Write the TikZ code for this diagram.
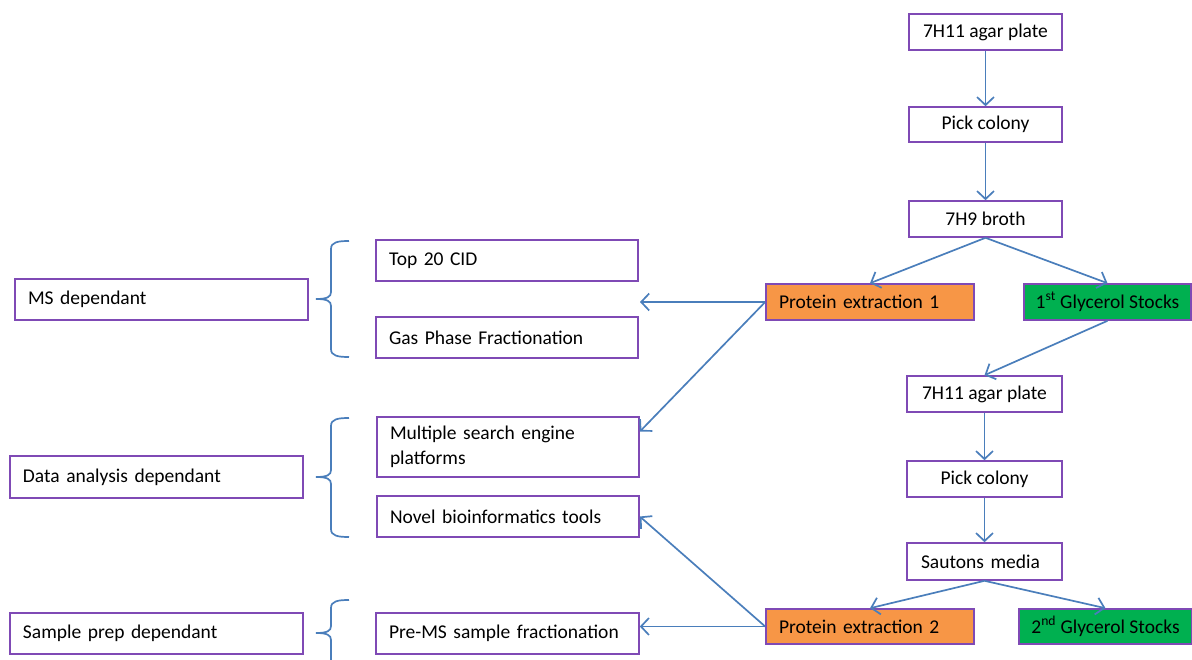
\documentclass[tikz,border=0pt]{standalone}
\usepackage{fontspec}
\setmainfont{Carlito}
\usetikzlibrary{arrows.meta,calc}

\definecolor{boxline}{HTML}{7F4AB5}
\definecolor{linkblue}{HTML}{4A7EBB}
\definecolor{extractfill}{HTML}{F79646}
\definecolor{stockfill}{HTML}{00B050}

\newcommand\boxfont{\fontsize{19.5}{24.5}\selectfont}

% curly brace opening to the right: top y, tip y, bottom y
\newcommand\drawbrace[3]{%
  \draw[bracepath] (349,#1) .. controls (338,#1) and (331,#1+1) .. (331,#1+8)
    -- (331,#2-7) .. controls (331,#2-2) and (327,#2) .. (316,#2)
    .. controls (327,#2) and (331,#2+2) .. (331,#2+7)
    -- (331,#3-8) .. controls (331,#3-1) and (338,#3) .. (349,#3);}

\tikzset{
  box/.style={draw=boxline, line width=1.6pt, fill=white, inner xsep=13pt,
    inner ysep=0pt, font=\boxfont, align=left, anchor=center},
  cbox/.style={box, align=center, inner xsep=4pt},
  extract/.style={box, fill=extractfill},
  stock/.style={box, align=center, fill=stockfill, inner xsep=4pt},
  link/.style={draw=linkblue, line width=1.7pt,
    -{Straight Barb[length=8pt,width=17pt,line width=1.7pt]}},
  bracepath/.style={draw=linkblue, line width=1.7pt},
}

\begin{document}
\begin{tikzpicture}[x=1pt,y=-1pt]
\useasboundingbox (0,0) rectangle (1192,660);
\clip (0,0) rectangle (1192,660);

% culture workflow, first passage
\node[cbox, minimum width=153pt, minimum height=36pt] (agar1) at (985.5,32) {7H11 agar plate};
\node[cbox, minimum width=153pt, minimum height=35pt] (pick1) at (985.5,124.5) {Pick colony};
\node[cbox, minimum width=153pt, minimum height=36pt] (broth) at (985.5,219) {7H9 broth};
\node[extract, text width=182pt, minimum height=36pt] (prot1) at (870,302) {Protein extraction 1};
\node[stock, minimum width=167pt, minimum height=36pt] (gly1) at (1107.5,302) {1\textsuperscript{st} Glycerol Stocks};

% second passage
\node[cbox, minimum width=155pt, minimum height=36pt] (agar2) at (984.5,394) {7H11 agar plate};
\node[cbox, minimum width=155pt, minimum height=36pt] (pick2) at (984.5,479) {Pick colony};
\node[box, inner xsep=14pt, text width=127pt, minimum height=37pt] (sauton) at (984.5,561.5) {Sautons media};
\node[extract, text width=182pt, minimum height=35pt] (prot2) at (870,626.5) {Protein extraction 2};
\node[stock, minimum width=173pt, minimum height=35pt] (gly2) at (1105.5,626.5) {2\textsuperscript{nd} Glycerol Stocks};

% methods
\node[box, text width=236pt, minimum height=41pt] (top20) at (507,260.5) {Top 20 CID};
\node[box, text width=236pt, minimum height=41pt] (gpf) at (507,337.5) {Gas Phase Fractionation};
\node[box, text width=236pt, minimum height=60pt] (engines) at (508,447) {Multiple search engine\\platforms};
\node[box, text width=236pt, minimum height=41pt] (bioinf) at (508,516.5) {Novel bioinformatics tools};
\node[box, text width=237pt, minimum height=41pt] (prems) at (507.5,633.5) {Pre-MS sample fractionation};

% categories
\node[box, text width=267pt, minimum height=41pt] (msdep) at (161.5,299.5) {MS dependant};
\node[box, text width=267pt, minimum height=42pt] (datadep) at (156.5,477) {Data analysis dependant};
\node[box, text width=267pt, minimum height=41pt] (prepdep) at (156.5,633.5) {Sample prep dependant};

% braces grouping the methods
\drawbrace{241}{299}{357}
\drawbrace{418}{477}{537}
\drawbrace{600}{633}{720}

% culture flow
\draw[link] (agar1) -- (pick1);
\draw[link] (pick1) -- (broth);
\draw[link] (broth.south) -- (prot1.north);
\draw[link] (broth.south) -- (gly1.north);
\draw[link] (gly1.south) -- (agar2.north);
\draw[link] (agar2) -- (pick2);
\draw[link] (pick2) -- (sauton);
\draw[link] (sauton.south) -- (prot2.north);
\draw[link] (sauton.south) -- (gly2.north);

% extractions to methods
\coordinate (msgap) at (640,302);
\draw[link] (prot1.west) -- (msgap);
\draw[link] (prot1.west) -- ($(engines.north east)!0.25!(engines.south east)$);
\draw[link] (prot2.west) -- (bioinf.east);
\draw[link] (prot2.west) -- (prems.east |- prot2.west);
\end{tikzpicture}
\end{document}
